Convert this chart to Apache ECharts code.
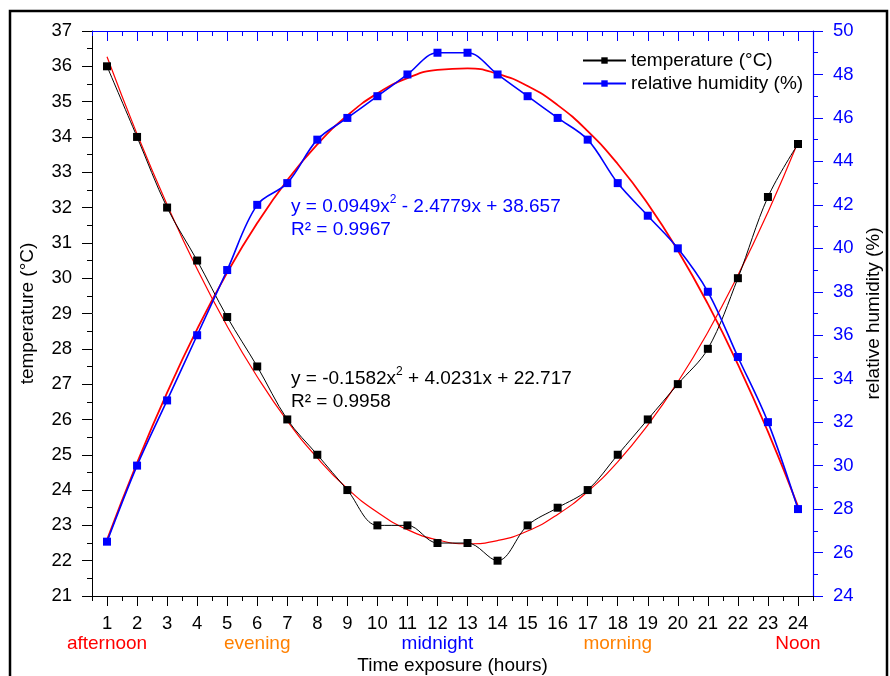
<!DOCTYPE html>
<html>
<head>
<meta charset="utf-8">
<script src="https://cdn.jsdelivr.net/npm/echarts@6/dist/echarts.min.js"></script>
<style>
  html, body { margin: 0; padding: 0; background: #fff; }
  #chart { width: 890px; height: 676px; }
</style>
</head>
<body>
<div id="chart"></div>
<script>
const hours = ['1', '2', '3', '4', '5', '6', '7', '8', '9', '10', '11', '12',
  '13', '14', '15', '16', '17', '18', '19', '20', '21', '22', '23', '24'];
const temperature = [36, 34, 32, 30.5, 28.9, 27.5, 26, 25, 24, 23, 23, 22.5,
  22.5, 22, 23, 23.5, 24, 25, 26, 27, 28, 30, 32.3, 33.8];
const humidity = [26.5, 30, 33, 36, 39, 42, 43, 45, 46, 47, 48, 49,
  49, 48, 47, 46, 45, 43, 41.5, 40, 38, 35, 32, 28];
// red trend curves at each hour
const temperatureTrend = [36.27, 34.08, 32.08, 30.26, 28.64, 27.21, 25.96, 24.91, 24.04, 23.37, 22.88, 22.59,
  22.48, 22.57, 22.84, 23.31, 23.96, 24.8, 25.84, 27.06, 28.47, 30.08, 31.87, 33.85];
const humidityTrend = [26.58, 30.13, 33.36, 36.28, 38.88, 41.16, 43.13, 44.78, 46.11, 47.13, 47.83, 48.21,
  48.28, 48.03, 47.47, 46.59, 45.39, 43.88, 42.05, 39.9, 37.44, 34.66, 31.56, 28.13];
const periodHours = ['1', '6', '12', '18', '24'];
const periodNames = ['afternoon', 'evening', 'midnight', 'morning', 'Noon'];
const periodStyles = ['red', 'orange', 'blue', 'orange', 'red'];

const font = '"Liberation Sans", Arial, sans-serif';
const blue = '#0000ff';

const chart = echarts.init(document.getElementById('chart'));

const catAxis = extra => Object.assign({
  type: 'category',
  data: hours,
  gridIndex: 0,
  boundaryGap: true,
  splitLine: { show: false },
  axisLabel: { show: false },
  axisLine: { show: false, onZero: false }
}, extra);

chart.setOption({
  animation: false,
  textStyle: { fontFamily: font },
  grid: { left: 92, right: 77, top: 31, bottom: 80, containLabel: false, outerBoundsMode: 'none' },
  legend: {
    data: ['temperature (°C)', 'relative humidity (%)'],
    orient: 'vertical',
    left: 577,
    top: 46,
    itemWidth: 43,
    itemHeight: 8,
    itemGap: 4,
    textStyle: { fontSize: 19, color: '#000', fontFamily: font }
  },
  xAxis: [
    catAxis({
      position: 'bottom',
      axisLine: { show: true, onZero: false, lineStyle: { color: '#000', width: 1 } },
      axisTick: { show: true, alignWithLabel: true, length: 10, lineStyle: { color: '#000' } },
      axisLabel: { show: true, interval: 0, color: '#000', fontSize: 18.5, margin: 18 },
      name: 'Time exposure (hours)',
      nameLocation: 'middle',
      nameGap: 60,
      nameTextStyle: { fontSize: 19, color: '#000' }
    }),
    catAxis({
      position: 'bottom',
      axisTick: { show: true, length: 5, lineStyle: { color: '#000' } }
    }),
    catAxis({
      position: 'bottom',
      axisTick: { show: false },
      axisLabel: {
        show: true,
        interval: 0,
        margin: 38,
        formatter: v => {
          const i = periodHours.indexOf(v);
          return i < 0 ? '' : '{' + periodStyles[i] + '|' + periodNames[i] + '}';
        },
        rich: {
          red: { color: '#ff0000', fontSize: 19 },
          orange: { color: '#ff8000', fontSize: 19 },
          blue: { color: blue, fontSize: 19 }
        }
      }
    }),
    catAxis({
      position: 'top',
      axisLine: { show: true, onZero: false, lineStyle: { color: blue, width: 1.2 } },
      axisTick: { show: true, inside: true, alignWithLabel: true, length: 10, lineStyle: { color: blue } }
    }),
    catAxis({
      position: 'top',
      axisTick: { show: true, inside: true, length: 5, lineStyle: { color: blue } }
    })
  ],
  yAxis: [
    {
      type: 'value',
      position: 'left',
      min: 21,
      max: 37,
      interval: 1,
      splitLine: { show: false },
      axisLine: { show: true, lineStyle: { color: '#000', width: 1 } },
      axisTick: { show: true, length: 10, lineStyle: { color: '#000' } },
      minorTick: { show: true, splitNumber: 2, length: 5, lineStyle: { color: '#000' } },
      axisLabel: { color: '#000', fontSize: 18.5, margin: 20 },
      name: 'temperature (°C)',
      nameLocation: 'middle',
      nameRotate: 90,
      nameGap: 55,
      nameTextStyle: { fontSize: 19, color: '#000' }
    },
    {
      type: 'value',
      position: 'right',
      min: 24,
      max: 50,
      interval: 2,
      splitLine: { show: false },
      axisLine: { show: true, lineStyle: { color: blue, width: 1.2 } },
      axisTick: { show: true, length: 10, lineStyle: { color: blue } },
      minorTick: { show: true, splitNumber: 2, length: 5, lineStyle: { color: blue } },
      axisLabel: { color: blue, fontSize: 18.5, margin: 20 },
      name: 'relative humidity (%)',
      nameLocation: 'middle',
      nameRotate: 90,
      nameGap: 46,
      nameTextStyle: { fontSize: 19, color: '#000' }
    }
  ],
  series: [
    {
      name: 'temperature fit',
      type: 'line',
      xAxisIndex: 0,
      yAxisIndex: 0,
      data: temperatureTrend,
      smooth: true,
      showSymbol: false,
      lineStyle: { color: '#ff0000', width: 1.2 },
      z: 1
    },
    {
      name: 'humidity fit',
      type: 'line',
      xAxisIndex: 0,
      yAxisIndex: 1,
      data: humidityTrend,
      smooth: true,
      showSymbol: false,
      lineStyle: { color: '#ff0000', width: 1.8 },
      z: 1
    },
    {
      name: 'temperature (°C)',
      type: 'line',
      xAxisIndex: 0,
      yAxisIndex: 0,
      data: temperature,
      smooth: 0.35,
      symbol: 'rect',
      symbolSize: 8,
      itemStyle: { color: '#000' },
      lineStyle: { color: '#000', width: 1 },
      z: 3
    },
    {
      name: 'relative humidity (%)',
      type: 'line',
      xAxisIndex: 0,
      yAxisIndex: 1,
      data: humidity,
      smooth: 0.35,
      symbol: 'rect',
      symbolSize: 8,
      itemStyle: { color: blue },
      lineStyle: { color: blue, width: 1.6 },
      z: 3
    }
  ],
  graphic: [
    {
      type: 'rect',
      shape: { x: 10, y: 11, width: 877, height: 680 },
      style: { fill: 'none', stroke: '#000', lineWidth: 2.5 },
      silent: true
    },
    {
      type: 'text',
      left: 291,
      top: 194,
      style: {
        text: '{a|y = 0.0949x}{s|2}{a| - 2.4779x + 38.657}',
        rich: {
          a: { fontSize: 19, fill: blue, fontFamily: font, lineHeight: 22, verticalAlign: 'bottom' },
          s: { fontSize: 12, fill: blue, fontFamily: font, lineHeight: 22, verticalAlign: 'top' }
        }
      }
    },
    {
      type: 'text',
      left: 291,
      top: 220,
      style: { text: 'R² = 0.9967', fontSize: 19, fill: blue, fontFamily: font }
    },
    {
      type: 'text',
      left: 291,
      top: 366,
      style: {
        text: '{a|y = -0.1582x}{s|2}{a| + 4.0231x + 22.717}',
        rich: {
          a: { fontSize: 19, fill: '#000', fontFamily: font, lineHeight: 22, verticalAlign: 'bottom' },
          s: { fontSize: 12, fill: '#000', fontFamily: font, lineHeight: 22, verticalAlign: 'top' }
        }
      }
    },
    {
      type: 'text',
      left: 291,
      top: 392,
      style: { text: 'R² = 0.9958', fontSize: 19, fill: '#000', fontFamily: font }
    }
  ]
});
</script>
</body>
</html>
